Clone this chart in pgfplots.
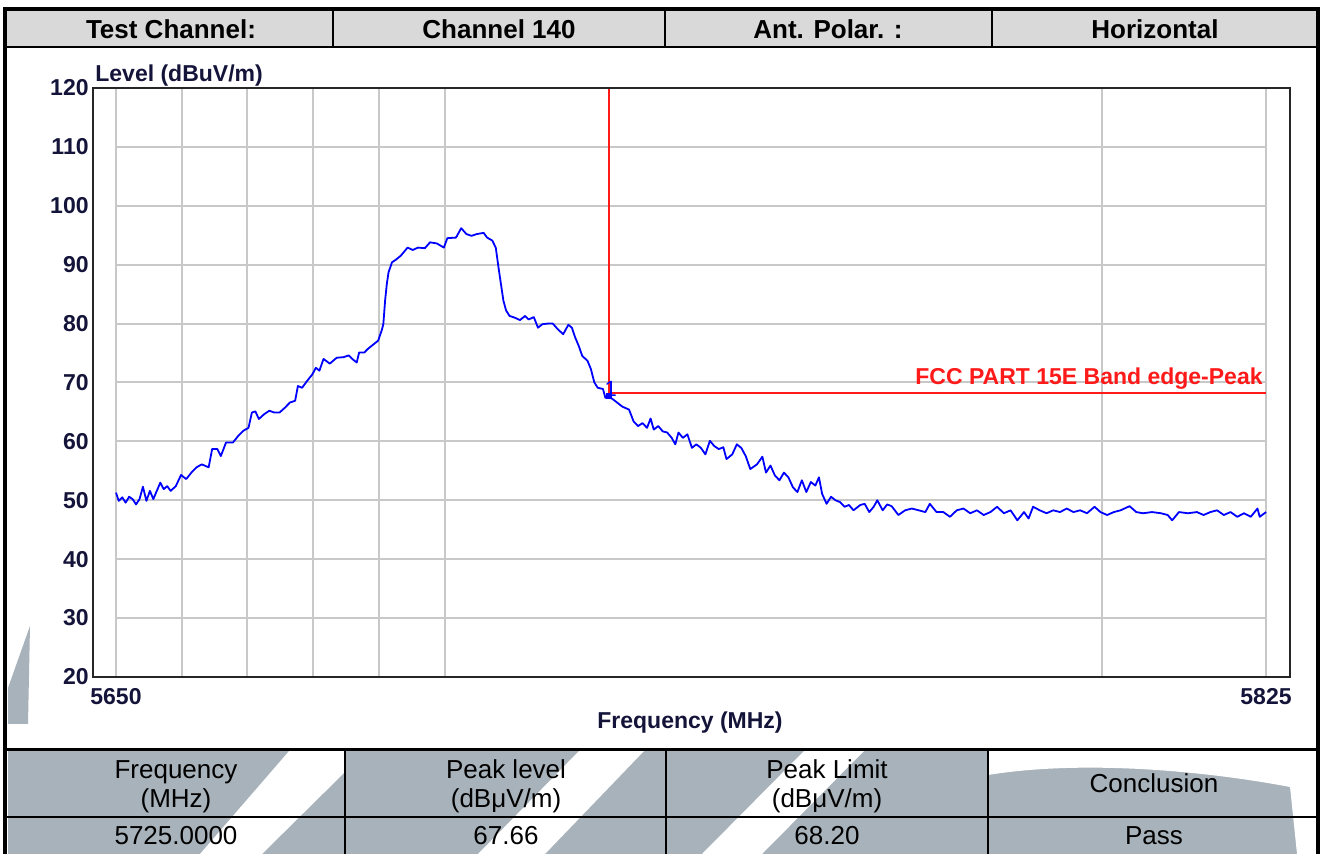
\documentclass[border=0pt]{standalone}
\usepackage{fontspec}
\setmainfont{Liberation Sans}
\newfontfamily\tabfont{Liberation Sans}
\usepackage{pgfplots}
\pgfplotsset{compat=1.18}
\definecolor{hdr}{HTML}{D9D9D9}
\definecolor{wm}{HTML}{A8B2BA}
\definecolor{gridc}{HTML}{C8C8C8}
\definecolor{lbl}{HTML}{14143A}
\definecolor{limred}{HTML}{FF1A1A}

\pgfplotstableread{
x y
5650 51.3
5650.42 49.9
5650.95 50.5
5651.47 49.6
5652.0 50.6
5652.53 50.2
5653.05 49.3
5653.58 50.2
5654.1 52.3
5654.63 49.9
5655.16 51.6
5655.68 50.2
5656.21 51.6
5656.74 53.0
5657.26 51.9
5657.79 52.4
5658.32 51.6
5659.1 52.4
5659.9 54.3
5660.68 53.6
5661.47 54.7
5662.26 55.6
5663.05 56.1
5664.1 55.6
5664.63 58.7
5665.42 58.7
5665.95 57.5
5666.74 59.8
5667.79 59.8
5668.58 60.9
5669.37 61.8
5670.16 62.3
5670.68 64.9
5671.21 65.1
5671.74 63.8
5672.53 64.6
5673.32 65.2
5674.1 64.9
5674.89 64.9
5675.68 65.7
5676.47 66.6
5677.26 66.9
5677.68 69.4
5678.32 69.1
5679.1 70.3
5679.89 71.4
5680.42 72.5
5680.95 72.0
5681.58 74.0
5682.53 73.2
5683.58 74.2
5684.63 74.3
5685.42 74.6
5685.95 74.0
5686.63 73.4
5687.0 75.1
5687.79 75.1
5688.32 75.7
5689.1 76.4
5689.89 77.1
5690.42 78.8
5690.68 79.9
5690.95 83.9
5691.21 86.7
5691.47 88.7
5692.0 90.4
5692.53 90.8
5693.32 91.5
5694.37 92.9
5695.16 92.5
5695.95 92.9
5697.0 92.8
5697.79 93.8
5698.84 93.6
5699.89 92.9
5700.42 94.5
5701.74 94.6
5702.53 96.2
5703.32 95.2
5704.1 94.9
5704.89 95.2
5705.95 95.4
5706.47 94.6
5707.26 94.1
5707.79 92.9
5708.21 89.5
5708.58 86.7
5708.95 83.9
5709.37 82.2
5709.89 81.3
5710.68 81.0
5711.47 80.6
5712.26 81.3
5712.79 80.7
5713.58 81.1
5714.21 79.3
5714.89 79.9
5715.68 80.0
5716.47 80.0
5717.26 79.0
5718.05 78.2
5718.84 79.8
5719.37 79.3
5719.89 77.6
5720.42 76.2
5720.95 74.5
5721.74 73.7
5722.26 72.3
5722.79 70.0
5723.32 69.1
5724.1 68.9
5724.47 67.4
5725.0 67.66
5726.02 66.8
5727.05 65.9
5728.07 65.4
5728.76 63.4
5729.44 62.6
5730.12 63.1
5730.81 62.3
5731.35 63.9
5731.83 62.0
5732.51 62.6
5733.2 61.7
5733.88 61.5
5734.56 60.6
5735.11 59.5
5735.59 61.5
5736.27 60.6
5736.95 61.2
5737.64 58.9
5738.32 59.5
5739.0 58.9
5739.69 57.8
5740.37 60.1
5741.05 59.2
5741.73 58.7
5742.42 59.0
5742.9 57.0
5743.78 57.8
5744.47 59.5
5745.15 58.9
5745.83 57.5
5746.52 55.3
5747.54 56.1
5748.36 57.4
5748.91 54.7
5749.59 55.9
5750.27 54.2
5750.96 53.4
5751.64 54.7
5752.32 53.9
5753.01 52.2
5753.69 51.4
5754.37 53.4
5755.05 51.4
5755.74 53.1
5756.42 52.5
5756.97 53.9
5757.45 51.1
5758.13 49.4
5758.81 50.6
5759.49 50.0
5760.18 49.7
5760.86 48.9
5761.54 49.2
5762.23 48.3
5763.25 49.2
5763.93 49.4
5764.62 48.0
5765.3 48.9
5765.85 50.0
5766.67 48.3
5767.35 49.3
5768.03 49.0
5769.06 47.5
5770.08 48.3
5771.11 48.6
5772.13 48.3
5773.16 48.0
5773.84 49.4
5774.86 48.0
5775.89 48.0
5776.91 47.2
5777.94 48.3
5778.96 48.6
5779.99 47.8
5781.01 48.3
5782.04 47.5
5783.06 48.0
5784.08 48.9
5785.11 47.8
5786.13 48.3
5787.16 46.6
5788.18 48.0
5788.87 46.9
5789.55 48.9
5790.57 48.3
5791.6 47.8
5792.62 48.3
5793.65 48.0
5794.67 48.6
5795.7 48.0
5796.72 48.3
5797.75 47.8
5798.91 48.9
5799.8 48.0
5800.82 47.5
5801.84 48.0
5802.87 48.3
5804.23 49.0
5805.26 48.0
5806.28 47.8
5807.65 48.0
5809.02 47.8
5810.04 47.5
5810.72 46.6
5811.75 48.0
5813.11 47.8
5814.48 48.0
5815.5 47.5
5816.53 48.0
5817.55 48.3
5818.58 47.5
5819.6 48.0
5820.63 47.2
5821.65 47.8
5822.68 47.2
5823.7 48.6
5824.04 47.2
5825 48.0
}\trace

\begin{document}
\begin{tikzpicture}
\begin{scope}[x=0.5pt,y=-0.5pt,shift={(0pt,427pt)}]
\path[use as bounding box] (0,0) rectangle (1325,854);
\fill[white] (0,0) rectangle (1325,854);
% watermark shapes
\fill[wm] (8,724) -- (8,688) -- (30,626) -- (28,724) -- cycle;
\fill[wm] (8,750) rectangle (1318,854);
\fill[white] (290,750) -- (345,750) -- (345,772) -- (262,854) -- (200,854) -- cycle;
\fill[white] (580,750) -- (645,750) -- (545,854) -- (478,854) -- cycle;
\fill[white] (805,750) -- (865,750) -- (762,854) -- (702,854) -- cycle;
\fill[white] (988,750) -- (1318,750) -- (1318,854) -- (1297,854) -- (1290,787) .. controls (1200,770) and (1080,760) .. (988,775) -- cycle;
% header row
\fill[hdr] (7,11) rectangle (1318,47);
\draw[line width=2pt] (5,9) -- (1318,9);
\draw[line width=1pt] (5,47) -- (1318,47);
\foreach \cx in {333,665,992} \draw[line width=1pt] (\cx,9) -- (\cx,47);
\draw[line width=2pt] (5,7) -- (5,854);
\draw[line width=2pt] (1318,7) -- (1318,854);
% bottom table lines
\draw[line width=1.5pt] (5,750) -- (1318,750);
\draw[line width=1pt] (5,817) -- (1318,817);
\foreach \cx in {345,666,988} \draw[line width=1pt] (\cx,750) -- (\cx,854);
% header texts
\tabfont\fontsize{13pt}{15pt}\selectfont
\node[anchor=base,font=\bfseries] at (171,39) {Test Channel:};
\node[anchor=base,font=\bfseries] at (499,39) {Channel 140};
\node[anchor=base,font=\bfseries] at (828,39) {Ant. Polar. :};
\node[anchor=base,font=\bfseries] at (1155,39) {Horizontal};
% table texts
\node[anchor=base] at (176,779) {Frequency};
\node[anchor=base] at (176,808) {(MHz)};
\node[anchor=base] at (506,779) {Peak level};
\node[anchor=base] at (506,808) {(dBμV/m)};
\node[anchor=base] at (827,779) {Peak Limit};
\node[anchor=base] at (827,808) {(dBμV/m)};
\node[anchor=base] at (1154,793) {Conclusion};
\node[anchor=base] at (176,845) {5725.0000};
\node[anchor=base] at (506,845) {67.66};
\node[anchor=base] at (827,845) {68.20};
\node[anchor=base] at (1154,845) {Pass};
\end{scope}

\begin{axis}[
  at={(58pt,88.5pt)}, anchor=south west,
  width=575pt, height=294.5pt, scale only axis,
  xmin=5650, xmax=5825, ymin=20, ymax=120,
  axis line style={draw=none},
  clip=false,
  xtick={5650,5660,5670,5680,5690,5700,5800,5825},
  xticklabels={5650,,,,,,,5825},
  ytick={20,30,...,120},
  grid=major,
  major grid style={gridc, line width=1pt},
  major tick length=0pt,
  /pgf/number format/assume math mode=true,
  ticklabel style={font=\bfseries\fontsize{11.5pt}{13pt}\selectfont, text=lbl},
  xticklabel style={anchor=north, inner sep=0pt, yshift=-5.5pt},
  yticklabel style={anchor=east, inner sep=0pt, xshift=-13.5pt},
]
\addplot[blue, line width=0.9pt, line join=round, mark=none] table[x=x,y=y] {\trace};
\addplot[limred, line width=1pt, mark=none] coordinates {(5725,120) (5725,68.2) (5825,68.2)};
\addplot[only marks, mark=square*, mark size=1.3pt, blue] coordinates {(5725,67.66)};
\node[anchor=base, text=blue, font=\fontsize{11pt}{12pt}\selectfont, inner sep=0pt] at (axis cs:5725,67.66) {\hspace*{2pt}1};
\end{axis}

\begin{scope}[x=0.5pt,y=-0.5pt,shift={(0pt,427pt)}]
\draw[black!85, line width=1pt] (93,88) rectangle (1290,677);
\node[anchor=base west, inner sep=0pt, text=lbl, font=\bfseries\fontsize{11.5pt}{13pt}\selectfont] at (95,82) {Level (dBuV/m)};
\node[anchor=base, inner sep=0pt, text=lbl, font=\bfseries\fontsize{11.5pt}{13pt}\selectfont] at (690,729) {Frequency (MHz)};
\node[anchor=base east, inner sep=0pt, text=limred, font=\bfseries\fontsize{11.5pt}{13pt}\selectfont] at (1263,385) {FCC PART 15E Band edge-Peak};
\end{scope}
\end{tikzpicture}
\end{document}
